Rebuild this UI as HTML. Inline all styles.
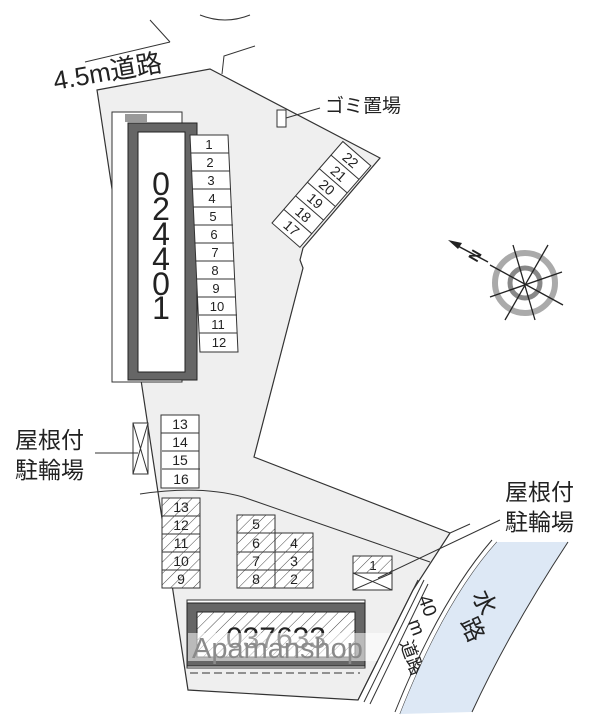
<!DOCTYPE html>
<html><head><meta charset="utf-8"><style>
html,body{margin:0;padding:0;background:#fff;width:612px;height:720px;overflow:hidden}
svg{display:block}
text{font-family:"Liberation Sans","Noto Sans CJK JP",sans-serif;fill:#222}
</style></head><body>
<svg width="612" height="720" viewBox="0 0 612 720" xmlns="http://www.w3.org/2000/svg">
<defs>
<pattern id="h" width="8" height="8" patternUnits="userSpaceOnUse" patternTransform="rotate(45)">
<line x1="0" y1="0" x2="0" y2="8" stroke="#333" stroke-width="0.9"/>
</pattern>
</defs>
<path d="M200 15 Q225 25 250 15" fill="none" stroke="#333" stroke-width="1"/>
<path d="M150 20 L170 42" fill="none" stroke="#333" stroke-width="1"/>
<path d="M85 62 L170 42" fill="none" stroke="#333" stroke-width="1"/>
<path d="M222 74 L224 56 L255 46" fill="none" stroke="#333" stroke-width="1"/>
<text x="55" y="90" font-size="26" transform="rotate(-10 55 90)">4.5m道路</text>
<path d="M97 90 L210 69 L380 158 L303 248 L300 260 L303 268 L254 457 L450 533 L413 590 L358 700 L188 690 L97 90 Z" fill="#efefef" stroke="#333" stroke-width="1.2"/>
<path d="M140 494 Q200 485 243 497 L430 562" fill="none" stroke="#333" stroke-width="1"/>
<path d="M450 533 L470 524" fill="none" stroke="#333" stroke-width="1"/>
<!-- building 024401 -->
<rect x="112" y="112" width="70" height="270" fill="#fff" stroke="#333" stroke-width="1"/>
<rect x="125" y="114" width="22" height="8" fill="#999"/>
<rect x="128" y="123" width="69" height="257" fill="#666" stroke="#222" stroke-width="1"/>
<rect x="138" y="132" width="47" height="240" fill="#fff" stroke="#222" stroke-width="1"/>
<g font-size="32" text-anchor="middle">
<text x="161" y="195">0</text><text x="161" y="220">2</text><text x="161" y="245">4</text><text x="161" y="270">4</text><text x="161" y="295">0</text><text x="161" y="319">1</text>
</g>
<!-- slots 1-12 -->
<g stroke="#333" stroke-width="1" fill="none">
<path d="M190 135 L228 135 L238 352 L200 352 Z" fill="#fff"/>
<path d="M191 153 L229 153 M192 171 L230 171 M193 189 L231 189 M193 207 L232 207 M194 225 L233 225 M195 243 L234 243 M196 261 L234 261 M197 279 L235 279 M198 297 L236 297 M199 315 L237 315 M199 333 L237 333"/>
</g>
<g font-size="13" text-anchor="middle">
<text x="209" y="149">1</text><text x="210" y="167">2</text><text x="211" y="185">3</text><text x="212" y="203">4</text><text x="213" y="221">5</text><text x="214" y="239">6</text><text x="215" y="257">7</text><text x="215" y="275">8</text><text x="216" y="293">9</text><text x="217" y="311">10</text><text x="218" y="329">11</text><text x="219" y="347">12</text>
</g>
<!-- gomi -->
<rect x="277" y="110" width="9" height="17" fill="#fff" stroke="#333"/>
<line x1="286" y1="118" x2="320" y2="108" stroke="#333"/>
<text x="325" y="112" font-size="19">ゴミ置場</text>
<!-- slots 17-22 -->
<g transform="translate(272,223) rotate(-49)">
<rect x="0" y="0" width="108" height="37" fill="#fff" stroke="#333"/>
<path d="M18 0 V37 M36 0 V37 M54 0 V37 M72 0 V37 M90 0 V37" stroke="#333"/>
<g font-size="14" text-anchor="middle">
<text x="9" y="23" transform="rotate(90 9 18)">17</text>
<text x="27" y="23" transform="rotate(90 27 18)">18</text>
<text x="45" y="23" transform="rotate(90 45 18)">19</text>
<text x="63" y="23" transform="rotate(90 63 18)">20</text>
<text x="81" y="23" transform="rotate(90 81 18)">21</text>
<text x="99" y="23" transform="rotate(90 99 18)">22</text>
</g>
</g>
<!-- compass -->
<g>
<circle cx="525" cy="283" r="30" fill="none" stroke="#aaa" stroke-width="6"/>
<circle cx="525" cy="283" r="15" fill="none" stroke="#888" stroke-width="5"/>
<g stroke="#222" stroke-width="1.3">
<line x1="513" y1="245" x2="535" y2="320"/>
<line x1="548" y1="245" x2="505" y2="320"/>
<line x1="490" y1="297" x2="562" y2="272"/>
<line x1="490" y1="265" x2="563" y2="305"/>
</g>
<path d="M448 240 L462 243 L458 249 Z" fill="#222"/>
<line x1="456" y1="245" x2="488" y2="262" stroke="#222" stroke-width="1.5"/>
<text x="475" y="264" font-size="15" font-weight="bold" transform="rotate(-60 475 262)">N</text>
</g>
<!-- left shed -->
<rect x="133" y="423" width="15" height="51" fill="#fff" stroke="#333"/>
<path d="M133 423 L148 474 M148 423 L133 474" stroke="#333"/>
<line x1="95" y1="453" x2="138" y2="453" stroke="#333"/>
<text x="15" y="448" font-size="23">屋根付</text>
<text x="15" y="478" font-size="23">駐輪場</text>
<!-- slots 13-16 -->
<g stroke="#333" fill="#fff"><rect x="161" y="415" width="38" height="73"/><path d="M161 433 H199 M162 451 H199 M162 469 H200" fill="none"/></g>
<g font-size="14" text-anchor="middle"><text x="180" y="429">13</text><text x="180" y="447">14</text><text x="180" y="465">15</text><text x="181" y="484">16</text></g>
<!-- hatched 9-13 -->
<g stroke="#333"><rect x="162" y="498" width="38" height="90" fill="#fff"/><rect x="162" y="498" width="38" height="90" fill="url(#h)"/>
<path d="M162 516 H200 M162 534 H200 M162 552 H200 M162 570 H200" fill="none"/></g>
<g font-size="14" text-anchor="middle"><text x="181" y="512">13</text><text x="181" y="530">12</text><text x="181" y="548">11</text><text x="181" y="566">10</text><text x="181" y="584">9</text></g>
<!-- hatched 2-8 -->
<g stroke="#333"><path d="M237 515 H275 V533 H313 V588 H237 Z" fill="#fff"/><path d="M237 515 H275 V533 H313 V588 H237 Z" fill="url(#h)"/>
<path d="M237 533 H275 M237 552 H313 M237 570 H313 M275 533 V588" fill="none"/></g>
<g font-size="14" text-anchor="middle"><text x="256" y="529">5</text><text x="256" y="548">6</text><text x="294" y="548">4</text><text x="256" y="566">7</text><text x="294" y="566">3</text><text x="256" y="584">8</text><text x="294" y="584">2</text></g>
<!-- right shed -->
<g stroke="#333"><rect x="353" y="556" width="39" height="34" fill="#fff"/><rect x="353" y="556" width="39" height="17" fill="url(#h)"/>
<path d="M353 573 H392 M353 573 L392 590 M392 573 L353 590" fill="none"/></g>
<text x="373" y="570" font-size="13" text-anchor="middle">1</text>
<line x1="378" y1="578" x2="500" y2="520" stroke="#333"/>
<text x="505" y="500" font-size="23">屋根付</text>
<text x="505" y="530" font-size="23">駐輪場</text>
<!-- building 037633 -->
<rect x="187" y="600" width="178" height="68" fill="#fff" stroke="#333"/>
<rect x="187" y="603" width="178" height="63" fill="#666" stroke="#222"/>
<rect x="197" y="612" width="158" height="45" fill="#fff" stroke="#222"/>
<rect x="197" y="612" width="158" height="45" fill="url(#h)"/>
<text x="276" y="648" font-size="30" text-anchor="middle">037633</text>
<line x1="190" y1="673" x2="360" y2="673" stroke="#333" stroke-dasharray="8 4"/>
<rect x="188" y="633" width="205" height="28" fill="#fff" opacity="0.55"/>
<text x="192" y="658" font-size="29" style="fill:#8a8a8a">Apamanshop</text>
<!-- road 40m -->
<path d="M358 700 L418 580" stroke="#333" fill="none" stroke-width="1"/>
<path d="M364 702 L424 580" stroke="#333" fill="none" stroke-width="1"/>
<path d="M370 704 L428 584" stroke="#333" fill="none" stroke-width="1"/>
<path d="M395 712 Q440 600 492 540" stroke="#333" fill="none" stroke-width="1"/>
<path d="M400 714 Q445 600 497 542" stroke="#333" fill="none" stroke-width="1"/>
<text x="418" y="598" font-size="19" transform="rotate(70 418 598)">40</text>
<text x="408" y="622" font-size="19" transform="rotate(70 408 622)">m</text>
<text x="400" y="643" font-size="18" transform="rotate(70 400 643)">道路</text>
<!-- water -->
<path d="M400 714 Q445 600 497 542 L568 542 Q510 630 472 712 Z" fill="#dde8f5"/>
<path d="M568 542 Q510 630 472 712" stroke="#333" fill="none"/>
<text x="472" y="595" font-size="24" transform="rotate(65 472 595)">水</text>
<text x="460" y="622" font-size="24" transform="rotate(65 460 622)">路</text>
</svg>
</body></html>
